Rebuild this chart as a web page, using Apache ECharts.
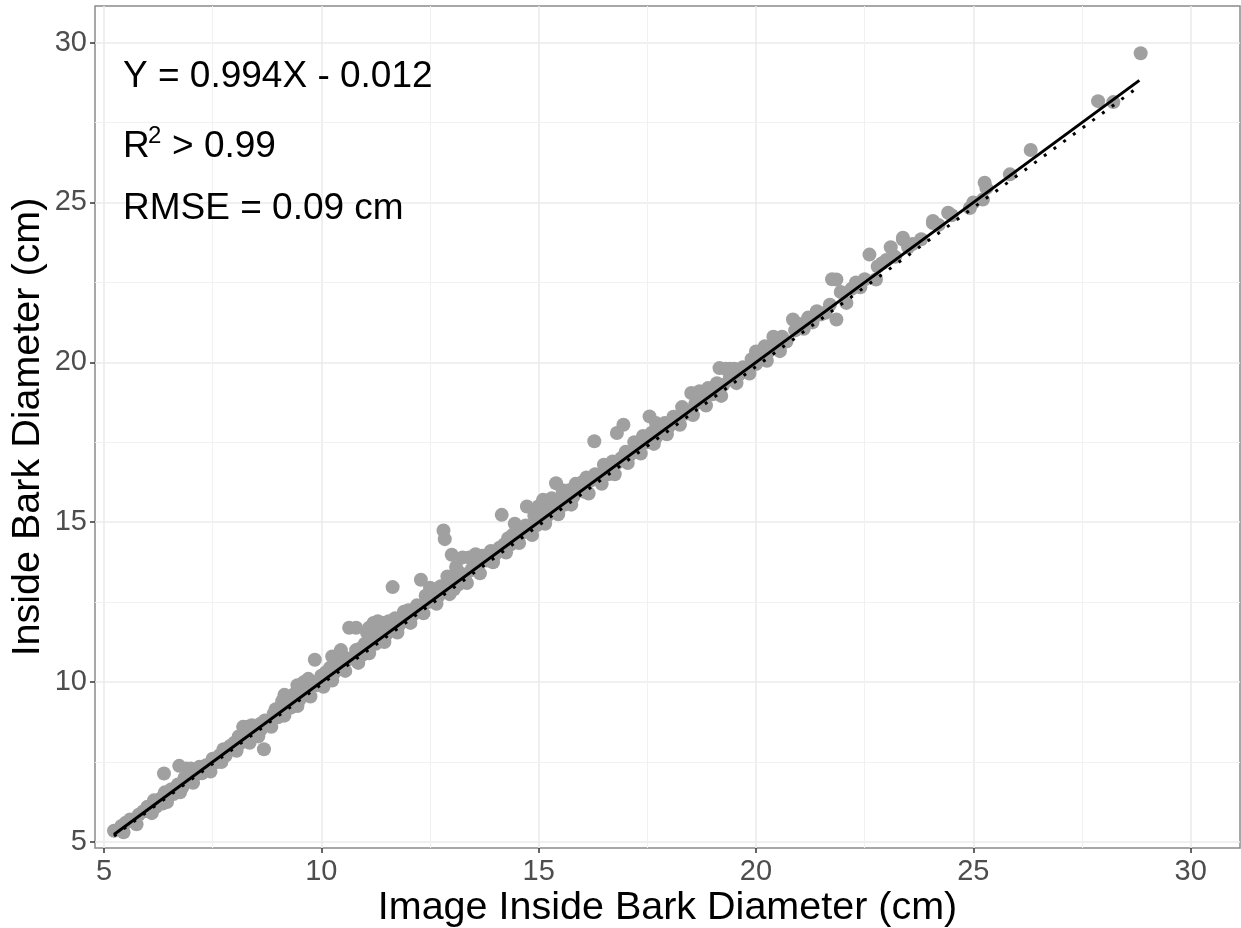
<!DOCTYPE html>
<html>
<head>
<meta charset="utf-8">
<script src="https://cdn.jsdelivr.net/npm/echarts@6/dist/echarts.min.js"></script>
<style>
  html, body { margin: 0; padding: 0; background: #fff; }
  #main { width: 1241px; height: 928px; }
</style>
</head>
<body>
<div id="main"></div>
<script>
// image inside bark diameter (x) vs measured inside bark diameter (y), cm
var pointsSmall = [
  [5.23,5.35],[5.4,5.5],[5.5,5.6],[5.6,5.7],[5.7,5.65],[5.8,5.85],[5.9,5.95],[6.0,6.1],[6.05,5.95],
  [6.15,6.3],[6.2,6.1],[6.3,6.35],[6.35,6.2],[6.4,6.55],[6.38,7.14],[6.5,6.45],[6.55,6.65],[6.6,6.5],
  [6.7,6.8],[6.73,7.38],[6.8,6.7],[6.85,7.0],[6.9,7.3],[7.0,7.3],[7.0,6.9],[7.1,7.1],[7.2,7.35],[7.25,7.15],
  [7.35,7.4],[7.4,7.3],[7.5,7.6],[7.6,7.5],[7.65,7.7],[7.75,7.9],[7.8,7.7],[7.9,8.0],[8.0,8.1],[8.0,7.95],
  [8.1,8.3],[8.15,8.1],[8.2,8.6],[8.3,8.6],[8.3,8.2],[8.4,8.65],[8.45,8.35],[8.5,8.45],[8.6,8.7],[8.6,8.5],
  [8.7,8.8],[8.68,7.9],[8.8,8.75],[8.9,9.0],[8.95,9.15],
  [9.0,8.9],[9.05,9.2],[9.1,9.4],[9.2,9.3],[9.25,9.5],[9.3,9.2],[9.35,9.6],[9.4,9.45],[9.5,9.7],[9.5,9.45],
  [9.6,10.0],[9.6,9.6],[9.7,10.1],[9.7,9.75],[9.8,10.0],[9.85,10.7],[9.9,9.9],[10.0,10.2],[10.0,10.0],
  [10.1,10.3],[10.15,10.1],[10.2,10.45],[10.3,10.3],[10.35,10.6],[10.4,10.4],[10.5,10.8],[10.5,10.55],[10.6,10.7],
  [5.45,5.3],[5.75,5.55],[6.1,5.9],[6.45,6.25],[6.75,6.55],[7.05,6.85],[7.45,7.2],[7.7,7.5],[8.05,7.85],
  [8.35,8.1],[8.55,8.3],[8.85,8.6],[9.15,8.95],[9.45,9.25],[9.75,9.55],[10.05,9.85],[10.25,10.05],[10.55,10.35],
  [9.15,9.6],[9.45,9.9],[10.25,10.8],[10.45,11.0]
];
var pointsMid = [
  [10.64,11.7],[10.7,10.75],[10.8,11.7],[10.8,11.0],[10.9,11.05],[10.95,10.85],[11.0,11.2],[11.05,11.55],
  [11.1,11.7],[11.15,11.3],[11.2,11.85],[11.25,11.2],[11.3,11.9],[11.35,11.5],[11.4,11.6],[11.5,11.5],
  [11.55,11.9],[11.64,12.97],[11.65,11.7],[11.7,12.0],[11.8,11.8],[11.9,12.2],[11.95,12.0],[12.0,12.25],
  [12.1,12.1],[12.2,12.4],[12.29,13.2],[12.3,12.3],[12.4,12.7],[12.45,12.5],[12.55,12.6],[12.6,12.9],
  [12.7,12.7],[12.75,13.0],[12.8,12.85],
  [12.81,14.74],[12.84,14.47],[12.9,13.3],[13.0,13.98],[13.0,13.2],[13.05,12.9],[13.1,13.6],[13.15,13.05],
  [13.2,13.4],[13.25,13.9],[13.3,13.3],[13.4,13.9],[13.45,13.5],[13.5,13.7],[13.6,13.6],[13.7,13.95],
  [13.8,13.8],[13.85,14.0],[13.9,14.1],[14.0,14.0],[14.1,14.2],[14.15,15.23],[14.2,14.3],[14.3,14.5],
  [14.35,14.3],[14.4,14.6],[14.5,14.5],[14.6,14.8],[14.6,14.65],[14.73,15.49],[14.7,14.9],[14.8,14.8],
  [14.9,15.2],[14.95,14.9],[15.0,15.0],
  [15.05,15.4],[15.1,15.7],[15.2,15.2],[15.25,15.6],[15.3,15.75],[15.4,16.22],[15.4,15.4],[15.5,15.7],
  [15.6,15.55],[15.65,15.9],[15.7,16.0],[15.8,15.8],[15.85,16.2],[15.9,16.0],[16.0,16.25],[16.05,15.95],
  [16.1,16.4],[16.2,16.3],[16.28,17.53],[16.3,16.5],[16.4,16.35],[16.5,16.8],[16.55,16.6],[16.6,16.5],
  [16.7,16.9],[16.8,17.79],[16.8,16.85],[16.9,17.0],[16.95,18.05],[17.0,17.2],[17.1,17.1],
  [10.85,10.6],[11.1,10.9],[11.45,11.25],[11.75,11.55],[12.05,11.85],[12.35,12.15],[12.65,12.45],[12.95,12.75],
  [13.35,13.1],[13.65,13.4],[13.95,13.75],[14.25,14.05],[14.55,14.35],[14.85,14.6],[15.15,14.95],[15.45,15.25],
  [15.75,15.55],[16.15,15.9],[16.45,16.2],[16.75,16.5],[17.05,16.85],
  [11.2,11.75],[11.45,11.85],[12.5,12.95],[13.55,14.0],[14.45,14.95],[15.0,15.5],[15.55,16.0]
];
var pointsLarge = [
  [17.2,17.5],[17.3,17.3],[17.4,17.7],[17.5,17.5],[17.55,18.31],[17.6,17.8],[17.7,17.65],[17.8,18.0],
  [17.9,18.1],[18.0,18.0],[18.1,18.3],[18.2,18.25],[18.3,18.6],[18.4,18.4],[18.51,19.04],[18.6,18.7],
  [18.7,19.0],[18.8,18.75],[18.9,19.2],[19.0,19.0],[19.1,19.35],[19.16,19.82],[19.25,19.3],[19.3,19.8],
  [19.4,19.55],[19.5,19.8],[19.6,19.6],[19.7,19.85],[19.8,19.8],[19.9,20.1],[20.0,20.34],[20.0,19.95],
  [20.1,20.2],[20.2,20.5],[20.3,20.35],[20.4,20.8],[20.5,20.6],[20.6,20.8],[20.7,20.65],[20.85,21.34],
  [20.9,21.0],[21.0,21.2],[21.1,21.05],[21.2,21.4],[21.3,21.25],[21.4,21.6],[21.5,21.5],[21.6,21.55],
  [21.7,21.8],[21.75,22.6],[21.85,22.59],[21.85,21.34],[21.95,22.2],[22.08,21.86],[22.2,22.3],[22.3,22.5],
  [22.4,22.35],[22.5,22.6],[22.61,23.37],[22.76,22.59],[22.8,23.0],[22.9,23.1],[23.0,23.2],[23.1,23.6],
  [23.2,23.3],[23.38,23.9],[23.38,23.84],[23.5,23.6],[23.6,23.7],[23.8,23.85],[24.07,24.42],[24.07,24.36],
  [24.2,24.3],[24.42,24.68],[24.5,24.6],[24.92,24.83],[25.0,25.0],[25.22,25.09],[25.26,25.62],[25.3,25.45],
  [25.84,25.88],[26.32,26.64],[27.87,28.17],[28.22,28.14],[28.85,29.67],
  [17.35,17.15],[17.65,17.45],[17.95,17.75],[18.25,18.05],[18.55,18.35],[18.85,18.65],[19.2,18.95],
  [19.55,19.35],[19.85,19.65],[20.25,20.05],[20.55,20.35],
  [17.7,18.1],[18.7,19.1],[19.4,19.8]
];

// fitted regression Y = 0.994X - 0.012
var fitSlope = 0.994;
var fitIntercept = -0.012;

var majorTicks = [5, 10, 15, 20, 25, 30];
var minorTicks = [7.5, 12.5, 17.5, 22.5, 27.5];

var allPoints = pointsSmall.concat(pointsMid, pointsLarge);
var xs = allPoints.map(function (p) { return p[0]; });
var xLo = Math.min.apply(null, xs), xHi = Math.max.apply(null, xs);

var oneToOne = [[xLo, xLo], [xHi - 0.03, xHi - 0.03]];
var fitLine = [[xLo, fitSlope * xLo + fitIntercept], [xHi, fitSlope * xHi + fitIntercept]];

var gridLines = [];
majorTicks.forEach(function (v) {
  gridLines.push({ xAxis: v, lineStyle: { width: 1.6, color: '#ebebeb' } });
  gridLines.push({ yAxis: v, lineStyle: { width: 1.6, color: '#ebebeb' } });
});
minorTicks.forEach(function (v) {
  gridLines.push({ xAxis: v, lineStyle: { width: 1, color: '#f1f1f1' } });
  gridLines.push({ yAxis: v, lineStyle: { width: 1, color: '#f1f1f1' } });
});

var font = 'Liberation Sans, Arial, sans-serif';
var myChart = echarts.init(document.getElementById('main'));
var option = {
  animation: false,
  backgroundColor: '#fff',
  textStyle: { fontFamily: font },
  grid: {
    left: 95, right: 1, top: 6, bottom: 80,
    outerBoundsMode: 'none',
    containLabel: false,
    show: true, borderColor: '#8a8a8a', borderWidth: 1.5
  },
  xAxis: {
    type: 'value',
    min: 4.793, max: 31.135,
    name: 'Image Inside Bark Diameter (cm)',
    nameLocation: 'middle',
    nameGap: 40,
    nameMoveOverlap: false,
    nameTextStyle: { fontSize: 39.5, color: '#000', fontFamily: font },
    axisLine: { show: false },
    splitLine: { show: false },
    axisTick: { show: true, length: 5, customValues: majorTicks, lineStyle: { color: '#333', width: 1.5 } },
    axisLabel: { customValues: majorTicks, fontSize: 29, color: '#4d4d4d', margin: 9, fontFamily: font }
  },
  yAxis: {
    type: 'value',
    min: 4.81, max: 31.146,
    name: 'Inside Bark Diameter (cm)',
    nameLocation: 'middle',
    nameGap: 47,
    nameMoveOverlap: false,
    nameTextStyle: { fontSize: 39.5, color: '#000', fontFamily: font },
    axisLine: { show: false },
    splitLine: { show: false },
    axisTick: { show: true, length: 5, customValues: majorTicks, lineStyle: { color: '#333', width: 1.5 } },
    axisLabel: { customValues: majorTicks, fontSize: 29, color: '#4d4d4d', margin: 8, fontFamily: font }
  },
  graphic: [
    { type: 'text', left: 123, top: 58, z: 10, style: { text: 'Y = 0.994X - 0.012', fontSize: 37, fill: '#000', fontFamily: font } },
    { type: 'text', left: 123, top: 128, z: 10, style: { text: 'R', fontSize: 37, fill: '#000', fontFamily: font } },
    { type: 'text', left: 148, top: 124, z: 10, style: { text: '2', fontSize: 24, fill: '#000', fontFamily: font } },
    { type: 'text', left: 172, top: 128, z: 10, style: { text: '> 0.99', fontSize: 37, fill: '#000', fontFamily: font } },
    { type: 'text', left: 123, top: 190, z: 10, style: { text: 'RMSE = 0.09 cm', fontSize: 37, fill: '#000', fontFamily: font } }
  ],
  series: [
    {
      type: 'scatter',
      data: [],
      silent: true,
      markLine: {
        z: 1,
        silent: true,
        symbol: ['none', 'none'],
        label: { show: false },
        lineStyle: { type: 'solid' },
        data: gridLines
      }
    },
    {
      type: 'scatter',
      data: allPoints,
      symbolSize: 14,
      z: 2,
      itemStyle: { color: '#a0a0a0', opacity: 1 }
    },
    {
      type: 'line',
      data: fitLine,
      showSymbol: false,
      z: 3,
      lineStyle: { color: '#000', width: 3, type: [3, 9] }
    },
    {
      type: 'line',
      data: oneToOne,
      showSymbol: false,
      z: 4,
      lineStyle: { color: '#000', width: 3 }
    }
  ]
};
myChart.setOption(option);
</script>
</body>
</html>
